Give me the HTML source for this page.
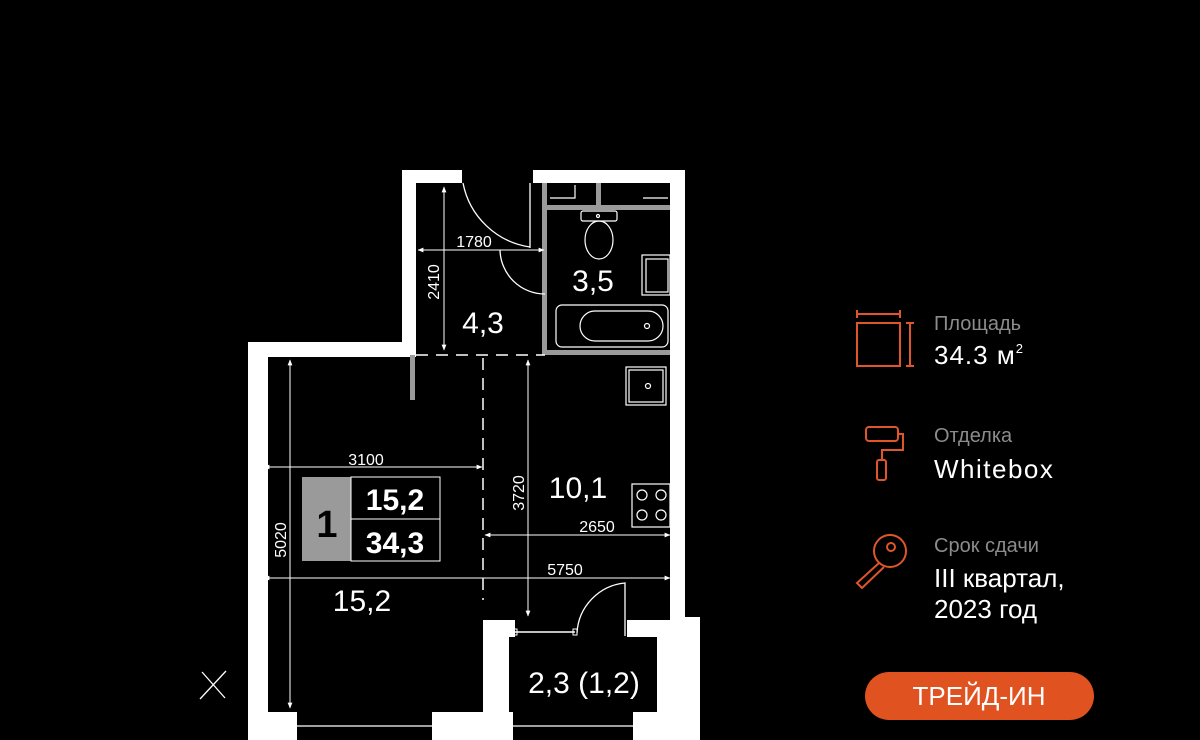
<!DOCTYPE html>
<html><head><meta charset="utf-8"><style>
html,body{margin:0;padding:0;background:#000;}
body{width:1200px;height:740px;overflow:hidden;position:relative;font-family:"Liberation Sans","DejaVu Sans",sans-serif;}
</style></head><body>
<svg width="1200" height="740" viewBox="0 0 1200 740" xmlns="http://www.w3.org/2000/svg" style="position:absolute;left:0;top:0">
<defs>
<marker id="a" viewBox="0 0 10 10" refX="9" refY="5" markerWidth="6" markerHeight="6" orient="auto-start-reverse"><path d="M0 1 L10 5 L0 9 z" fill="#fff"/></marker>
</defs>
<rect width="1200" height="740" fill="#000"/>
<polygon points="402,170 685,170 685,617 700,617 700,740 248,740 248,342 402,342" fill="#fff"/>
<rect x="416" y="183" width="130" height="172" fill="#000"/>
<rect x="462" y="170" width="71" height="14" fill="#000"/>
<rect x="542" y="183" width="128" height="172" fill="#000"/>
<rect x="268" y="357" width="215" height="355" fill="#000"/>
<rect x="416" y="352" width="254" height="268" fill="#000"/>
<rect x="509" y="637" width="148" height="75" fill="#000"/>
<rect x="515" y="620" width="112" height="17" fill="#000"/>
<line x1="515" y1="632" x2="575" y2="632" stroke="#fff" stroke-width="1.5"/>
<rect x="513" y="629" width="4" height="6" fill="none" stroke="#fff"/>
<rect x="573" y="629" width="4" height="6" fill="none" stroke="#fff"/>
<path d="M577 633 A53 53 0 0 1 625 583 L625 636" fill="none" stroke="#fff" stroke-width="1.3"/>
<rect x="297" y="712" width="135" height="28" fill="#000"/>
<rect x="513" y="712" width="120" height="28" fill="#000"/>
<line x1="297" y1="726" x2="432" y2="726" stroke="#fff" stroke-width="1.2"/>
<line x1="513" y1="726" x2="633" y2="726" stroke="#fff" stroke-width="1.2"/>
<g fill="#9a9a9a">
<rect x="542" y="183" width="5" height="172"/>
<rect x="542" y="350" width="128" height="5"/>
<rect x="547" y="205" width="123" height="5"/>
<rect x="596" y="183" width="5" height="25"/>
<rect x="410" y="355" width="5" height="45"/>
</g>
<path d="M463 183 A80 80 0 0 0 530 247" fill="none" stroke="#fff" stroke-width="1.3"/>
<line x1="530" y1="183" x2="530" y2="248" stroke="#fff" stroke-width="1.3"/>
<path d="M500 250 A45 45 0 0 0 545 294" fill="none" stroke="#fff" stroke-width="1.3"/>
<g fill="none" stroke="#fff" stroke-width="1.2">
<polyline points="550,198 575,198 575,185"/>
<polyline points="643,198 668,198"/>
<rect x="581" y="211" width="36" height="10" rx="2"/>
<ellipse cx="599" cy="240" rx="14" ry="19"/>
<circle cx="598" cy="216" r="1.5"/>
<rect x="642" y="255" width="28" height="40"/>
<rect x="646" y="259" width="22" height="33"/>
<rect x="556" y="305" width="112" height="42" rx="6"/>
<rect x="580" y="311" width="83" height="30" rx="15"/>
<circle cx="647" cy="326" r="2.5"/>
<rect x="626" y="367" width="40" height="38"/>
<rect x="629" y="370" width="34" height="32"/>
<circle cx="648" cy="386" r="2.5"/>
<rect x="632" y="484" width="38" height="43"/>
<circle cx="642" cy="495" r="5"/><circle cx="661" cy="495" r="5"/>
<circle cx="642" cy="515" r="5"/><circle cx="661" cy="515" r="5"/>
</g>
<g stroke="#fff" stroke-width="1.5" stroke-dasharray="12,8">
<line x1="416" y1="355" x2="545" y2="355"/>
<line x1="483" y1="358" x2="483" y2="600"/>
</g>
<g stroke="#fff" stroke-width="1" marker-start="url(#a)" marker-end="url(#a)">
<line x1="444" y1="187" x2="444" y2="350"/>
<line x1="418" y1="250" x2="544" y2="250"/>
<line x1="290" y1="360" x2="290" y2="708"/>
<line x1="264" y1="467" x2="482" y2="467"/>
<line x1="528" y1="360" x2="528" y2="616"/>
<line x1="485" y1="535" x2="670" y2="535"/>
<line x1="264" y1="578" x2="670" y2="578"/>
</g>
<g fill="#fff" font-size="16" font-family="Liberation Sans, sans-serif">
<text x="474" y="247" text-anchor="middle">1780</text>
<text transform="translate(439,282) rotate(-90)" text-anchor="middle">2410</text>
<text x="366" y="465" text-anchor="middle">3100</text>
<text transform="translate(286,540) rotate(-90)" text-anchor="middle">5020</text>
<text transform="translate(524,493) rotate(-90)" text-anchor="middle">3720</text>
<text x="597" y="532" text-anchor="middle">2650</text>
<text x="565" y="575" text-anchor="middle">5750</text>
</g>
<g fill="#fff" font-size="30" font-family="Liberation Sans, sans-serif">
<text x="483" y="333" text-anchor="middle">4,3</text>
<text x="593" y="291" text-anchor="middle">3,5</text>
<text x="578" y="498" text-anchor="middle">10,1</text>
<text x="362" y="611" text-anchor="middle">15,2</text>
<text x="584" y="693" text-anchor="middle">2,3 (1,2)</text>
</g>
<rect x="302" y="477" width="49" height="84" fill="#9a9a9a"/>
<rect x="351" y="477" width="89" height="42" fill="none" stroke="#fff"/>
<rect x="351" y="519" width="89" height="42" fill="none" stroke="#fff"/>
<text x="327" y="537" text-anchor="middle" font-size="38" font-weight="bold" fill="#000">1</text>
<text x="395" y="510" text-anchor="middle" font-size="30" font-weight="bold" fill="#fff">15,2</text>
<text x="395" y="553" text-anchor="middle" font-size="30" font-weight="bold" fill="#fff">34,3</text>
<g stroke="#fff" stroke-width="1.3">
<line x1="202" y1="672" x2="225" y2="698"/><line x1="226" y1="671" x2="200" y2="699"/>
</g>
<g fill="none" stroke="#e0552a" stroke-width="2">
<line x1="857" y1="314" x2="900" y2="314"/><line x1="857" y1="310" x2="857" y2="318"/><line x1="900" y1="310" x2="900" y2="318"/>
<rect x="857" y="323" width="43" height="43"/>
<line x1="910" y1="323" x2="910" y2="366"/><line x1="906" y1="323" x2="914" y2="323"/><line x1="906" y1="366" x2="914" y2="366"/>
<rect x="866" y="427" width="32" height="14" rx="3"/>
<polyline points="898,434 903,434 903,450 882,450 882,460"/>
<rect x="877" y="460" width="9" height="20" rx="2"/>
<circle cx="890" cy="551" r="16"/><circle cx="891" cy="547" r="4"/>
<path d="M879 563 L857 583 L862 588 L884 567"/>
</g>
<g font-family="Liberation Sans, sans-serif">
<text x="934" y="330" font-size="20" fill="#8c8c8c">Площадь</text>
<text x="934" y="364" font-size="26" fill="#fff" letter-spacing="1">34.3 м<tspan font-size="13" dy="-11">2</tspan></text>
<text x="934" y="442" font-size="20" fill="#8c8c8c">Отделка</text>
<text x="934" y="478" font-size="26" fill="#fff" letter-spacing="1.5">Whitebox</text>
<text x="934" y="552" font-size="20" fill="#8c8c8c">Срок сдачи</text>
<text x="934" y="587" font-size="26" fill="#fff">III квартал,</text>
<text x="934" y="618" font-size="26" fill="#fff">2023 год</text>
</g>
<rect x="865" y="672" width="229" height="48" rx="24" fill="#e0521f"/>
<text x="979" y="705" text-anchor="middle" font-size="26" fill="#fff" font-family="Liberation Sans, sans-serif">ТРЕЙД-ИН</text>
</svg>
</body></html>
